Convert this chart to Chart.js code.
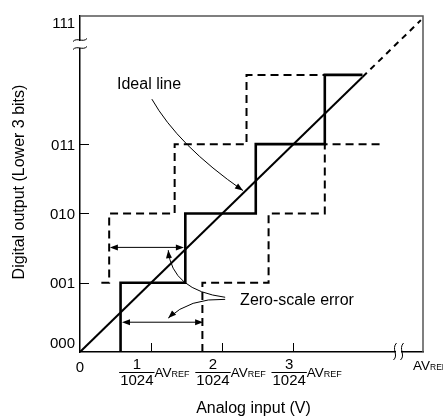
<!DOCTYPE html>
<html><head><meta charset="utf-8">
<script src="https://cdn.jsdelivr.net/npm/chart.js@4.4.1/dist/chart.umd.min.js"></script>
<style>html,body{margin:0;padding:0;background:#fff;}canvas{display:block;}</style>
</head><body>
<canvas id="c" width="443" height="418"></canvas>
<script>
// ---- data ----
const yTickValues = [0, 1, 2, 3];
const yTickLabels = ['000', '001', '010', '011'];
const yTopLabel = '111';
const xZeroLabel = '0';
const xTickValues = [1, 2, 3];
const xNumerators = ['1', '2', '3'];
const xDenominator = '1024';
const xUnitMain = 'AV', xUnitSub = 'REF';
const xEndMain = 'AV', xEndSub = 'REF0';
const xTitle = 'Analog input (V)';
const yTitle = 'Digital output (Lower 3 bits)';
const idealLabel = 'Ideal line';
const errorLabel = 'Zero-scale error';

const idealX = [0, 3.97],    idealY = [0, 3.97];
const idealExtX = [3.97, 4.79], idealExtY = [3.97, 4.79];
const actualX = [0.57, 0.57, 1.48, 1.48, 2.47, 2.47, 3.44, 3.44, 3.97];
const actualY = [0, 1, 1, 2, 2, 3, 3, 4, 4];
const upperX = [0.30, 0.41, 0.41, 1.33, 1.33, 2.34, 2.34, 3.44];
const upperY = [1, 1, 2, 2, 3, 3, 4, 4];
const lowerX = [1.72, 1.72, 2.65, 2.65, 3.44, 3.44, 4.25];
const lowerY = [0, 1, 1, 2, 2, 3, 3];
const errArrowY = [1.51, 0.43];
const errArrowFrom = [0.42, 0.59];
const errArrowTo = [1.46, 1.73];

const FONT = "'Liberation Sans', Arial, sans-serif";
const pts = (xs, ys) => xs.map((x, i) => ({x, y: ys[i]}));

function arrowHead(ctx, x, y, ang, len, half) {
  ctx.beginPath();
  ctx.moveTo(x, y);
  ctx.lineTo(x - len * Math.cos(ang) + half * Math.sin(ang), y - len * Math.sin(ang) - half * Math.cos(ang));
  ctx.lineTo(x - len * Math.cos(ang) - half * Math.sin(ang), y - len * Math.sin(ang) + half * Math.cos(ang));
  ctx.closePath();
  ctx.fill();
}

const annot = {
  id: 'annot',
  afterDraw(chart) {
    const {ctx, chartArea: a, scales: {x: sx, y: sy}} = chart;
    const X = v => sx.getPixelForValue(v), Y = v => sy.getPixelForValue(v);
    ctx.save();
    ctx.fillStyle = '#000'; ctx.strokeStyle = '#000';

    // top and right frame
    ctx.strokeStyle = '#555'; ctx.lineWidth = 1.5;
    ctx.beginPath(); ctx.moveTo(a.left, a.top); ctx.lineTo(a.right, a.top); ctx.lineTo(a.right, a.bottom); ctx.stroke();
    ctx.strokeStyle = '#000';

    // inner tick marks
    ctx.lineWidth = 1;
    yTickValues.forEach(v => { if (v === 0) return; const py = Math.round(Y(v)) + 0.5;
      ctx.beginPath(); ctx.moveTo(a.left, py); ctx.lineTo(a.left + 9, py); ctx.stroke(); });
    xTickValues.forEach(v => { const px = Math.round(X(v)) + 0.5;
      ctx.beginPath(); ctx.moveTo(px, a.bottom); ctx.lineTo(px, a.bottom - 9); ctx.stroke(); });

    // y tick labels
    ctx.font = '15px ' + FONT; ctx.textAlign = 'right'; ctx.textBaseline = 'alphabetic';
    yTickValues.forEach((v, i) => {
      let py = Y(v);
      py = Math.min(py, a.bottom - 10);
      ctx.fillText(yTickLabels[i], a.left - 5, py + 5.5);
    });
    ctx.fillText(yTopLabel, a.left - 5, a.top + 6 + 5.5);

    // x labels
    ctx.textAlign = 'center';
    ctx.font = '15px ' + FONT;
    ctx.fillText(xZeroLabel, X(0), a.bottom + 20);
    xTickValues.forEach((v, i) => {
      // label groups are spread slightly wider than the tick spacing, as in the original
      const left = X(v) - 36 + 5 * v;
      ctx.font = '15px ' + FONT;
      const fw = ctx.measureText(xDenominator).width;
      const cx = left + fw / 2;
      ctx.textAlign = 'center';
      ctx.fillText(xNumerators[i], cx, a.bottom + 17);
      ctx.fillText(xDenominator, cx, a.bottom + 33);
      ctx.lineWidth = 1;
      ctx.beginPath(); ctx.moveTo(left - 1, a.bottom + 20.5); ctx.lineTo(left + fw + 1, a.bottom + 20.5); ctx.stroke();
      ctx.textAlign = 'left';
      ctx.font = '13.5px ' + FONT;
      const mx = left + fw + 1;
      ctx.fillText(xUnitMain, mx, a.bottom + 25);
      const mw = ctx.measureText(xUnitMain).width;
      ctx.font = '9px ' + FONT;
      ctx.fillText(xUnitSub, mx + mw, a.bottom + 25);
    });
    // AVREF0 at right end
    ctx.textAlign = 'left';
    ctx.font = '13.5px ' + FONT;
    ctx.fillText(xEndMain, a.right - 10, a.bottom + 18);
    const ew = ctx.measureText(xEndMain).width;
    ctx.font = '8.5px ' + FONT;
    ctx.fillText(xEndSub, a.right - 10 + ew, a.bottom + 18);

    // axis titles
    ctx.font = '16px ' + FONT; ctx.textAlign = 'center';
    ctx.fillText(xTitle, (a.left + a.right) / 2 + 2, 413);
    ctx.save();
    ctx.translate(24, 182); ctx.rotate(-Math.PI / 2);
    ctx.fillText(yTitle, 0, 0);
    ctx.restore();

    // break marks on y axis
    ctx.fillStyle = '#fff';
    ctx.fillRect(a.left - 2, a.top + 25, 4, 7);
    ctx.fillStyle = '#000';
    ctx.lineWidth = 1;
    [a.top + 24, a.top + 32].forEach(py => {
      ctx.beginPath(); ctx.moveTo(a.left - 7, py + 1.5);
      ctx.bezierCurveTo(a.left - 3, py - 3, a.left + 3, py + 3, a.left + 7, py - 1.5); ctx.stroke();
    });
    // break marks on x axis
    const bx = a.right - 26;
    ctx.fillStyle = '#fff';
    ctx.fillRect(bx - 1, a.bottom - 2, 5, 4);
    ctx.fillStyle = '#000';
    [bx - 2, bx + 5].forEach(px => {
      ctx.beginPath(); ctx.moveTo(px + 1.5, a.bottom - 9);
      ctx.bezierCurveTo(px - 4, a.bottom - 3, px + 4, a.bottom + 3, px - 1.5, a.bottom + 8); ctx.stroke();
    });

    // zero-scale error double arrows
    ctx.lineWidth = 1;
    errArrowY.forEach((yv, i) => {
      const py = Y(yv), x1 = X(errArrowFrom[i]), x2 = X(errArrowTo[i]);
      ctx.beginPath(); ctx.moveTo(x1 + 3, py); ctx.lineTo(x2 - 3, py); ctx.stroke();
      arrowHead(ctx, x1, py, Math.PI, 8, 3);
      arrowHead(ctx, x2, py, 0, 8, 3);
    });

    // curved leaders
    function leader(p0, c, p2) {
      const P0 = [X(p0[0]), Y(p0[1])], C = [X(c[0]), Y(c[1])], P2 = [X(p2[0]), Y(p2[1])];
      ctx.beginPath(); ctx.moveTo(P0[0], P0[1]); ctx.quadraticCurveTo(C[0], C[1], P2[0], P2[1]); ctx.stroke();
      arrowHead(ctx, P2[0], P2[1], Math.atan2(P2[1] - C[1], P2[0] - C[0]), 8, 3);
    }
    ctx.lineWidth = 1;
    leader([1.01, 3.65], [1.38, 2.98], [2.29, 2.33]);
    leader([2.04, 0.79], [1.29, 0.89], [1.24, 1.47]);
    leader([2.04, 0.76], [1.54, 0.78], [1.24, 0.49]);

    // annotation texts
    ctx.font = '16px ' + FONT; ctx.textAlign = 'left';
    ctx.fillText(idealLabel, X(0.52), 89);
    ctx.fillText(errorLabel, X(2.25), 305);
    ctx.restore();
  }
};

const solid = {showLine: true, pointRadius: 0, borderColor: '#000', fill: false, tension: 0};
new Chart(document.getElementById('c'), {
  type: 'scatter',
  data: {datasets: [
    Object.assign({data: pts(upperX, upperY), borderWidth: 2, borderDash: [8, 5]}, solid),
    Object.assign({data: pts(lowerX, lowerY), borderWidth: 2, borderDash: [8, 5]}, solid),
    Object.assign({data: pts(idealX, idealY), borderWidth: 2}, solid),
    Object.assign({data: pts(idealExtX, idealExtY), borderWidth: 2, borderDash: [6, 5]}, solid),
    Object.assign({data: pts(actualX, actualY), borderWidth: 2.6, borderJoinStyle: 'miter'}, solid)
  ]},
  options: {
    responsive: false, animation: false, events: [],
    layout: {padding: {top: 16, right: 20, left: 0, bottom: 0}},
    plugins: {legend: {display: false}, tooltip: {enabled: false}},
    scales: {
      x: {type: 'linear', min: 0, max: 4.82, ticks: {display: false}, grid: {display: false},
          border: {color: '#000', width: 1.5}, afterFit(s) { s.height = 66; }},
      y: {type: 'linear', min: 0, max: 4.85, ticks: {display: false}, grid: {display: false},
          border: {color: '#000', width: 1.5}, afterFit(s) { s.width = 80; }}
    }
  },
  plugins: [annot]
});
</script>
</body></html>
